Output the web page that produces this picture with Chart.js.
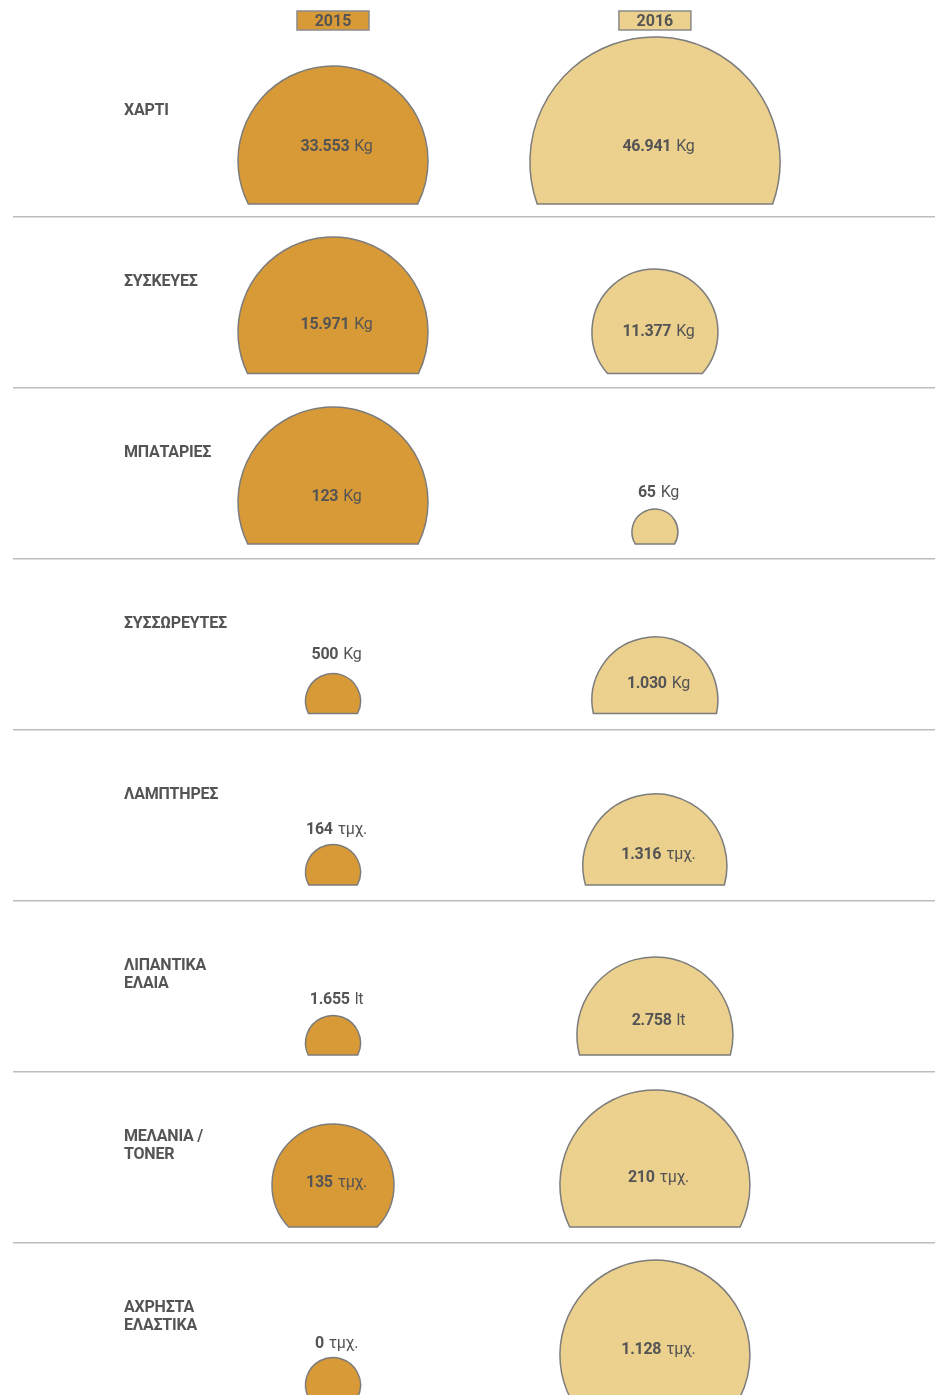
<!DOCTYPE html>
<html>
<head>
<meta charset="utf-8">
<script src="https://cdn.jsdelivr.net/npm/chart.js@4/dist/chart.umd.min.js"></script>
<style>
html,body{margin:0;padding:0;background:#ffffff;overflow:hidden;}
#wrap{width:935px;height:1420px;position:relative;}
canvas{display:block;}
</style>
</head>
<body>
<div id="wrap"><canvas id="c" width="935" height="1420"></canvas></div>
<script>
// ---- data ----
const categories = [['ΧΑΡΤΙ'], ['ΣΥΣΚΕΥΕΣ'], ['ΜΠΑΤΑΡΙΕΣ'], ['ΣΥΣΣΩΡΕΥΤΕΣ'], ['ΛΑΜΠΤΗΡΕΣ'], ['ΛΙΠΑΝΤΙΚΑ', 'ΕΛΑΙΑ'], ['ΜΕΛΑΝΙΑ /', 'TONER'], ['ΑΧΡΗΣΤΑ', 'ΕΛΑΣΤΙΚΑ']];
const years = [2015, 2016];
const values2015 = [33553, 15971, 123, 500, 164, 1655, 135, 0];
const values2016 = [46941, 11377, 65, 1030, 1316, 2758, 210, 1128];
const units = ['Kg', 'Kg', 'Kg', 'Kg', 'τμχ.', 'lt', 'τμχ.', 'τμχ.'];

// ---- layout (pixels, designer-chosen sizes, not data) ----
const radius2015 = [95, 95, 95, 27.5, 27.5, 27.5, 61, 27.5];
const radius2016 = [125, 63, 23, 63, 72, 78, 95, 95];
const centerDy2015 = [29.5, 29.5, 28.5, 56.5, 56.5, 56.5, 27.5, 56.5];
const centerDy2016 = [30.5, 29.5, 58.5, 55.5, 50.5, 48.5, 27.5, 26.5];
const labelDy2015 = [13.5, 20.5, 21.5, 8.5, 12.5, 11.5, 23.5, 13.5];
const labelDy2016 = [13.5, 27.5, 17.5, 37.5, 37.5, 32.5, 18.5, 19.5];
const baseDy = [72.5, 71, 70.5, 69, 69.5, 68.5, 69.5, 69.5];
const textShift = 1.5;

// ---- styles ----
const fills = ['#D89A36', '#EBD08E'];
const strokeColor = '#7c7c7c';
const textColor = '#545454';
const FONT = 'Roboto, "Noto Sans", sans-serif';

const seriesValues = [values2015, values2016];
const seriesRadius = [radius2015, radius2016];
const seriesCenterDy = [centerDy2015, centerDy2016];
const seriesLabelDy = [labelDy2015, labelDy2016];

const fmt = n => String(n).replace(/\B(?=(\d{3})+(?!\d))/g, '.');

const domePlugin = {
  id: 'domes',
  beforeDatasetsDraw(chart) {
    const ctx = chart.ctx;
    const xs = chart.scales.x;
    ctx.save();
    // header boxes
    years.forEach((yr, d) => {
      const x = xs.getPixelForValue(yr);
      const w = 72, h = 19, top = 11;
      ctx.fillStyle = fills[d];
      ctx.fillRect(x - w / 2, top, w, h);
      ctx.lineWidth = 1.5;
      ctx.strokeStyle = '#8a8a8a';
      ctx.strokeRect(x - w / 2, top, w, h);
      ctx.fillStyle = textColor;
      ctx.font = 'bold 16px ' + FONT;
      ctx.textAlign = 'center';
      ctx.textBaseline = 'middle';
      ctx.fillText(String(yr), x, top + h / 2 + 1.5);
    });
    // category labels
    const ys = chart.scales.y;
    ctx.font = 'bold 16px ' + FONT;
    ctx.textAlign = 'left';
    ctx.textBaseline = 'middle';
    ctx.fillStyle = textColor;
    try { ctx.letterSpacing = '-0.2px'; } catch (e) {}
    categories.forEach((lines, i) => {
      const yc = ys.getPixelForValue(i);
      lines.forEach((ln, k) => ctx.fillText(ln, 124, yc - 22.5 + textShift + k * 18.5));
    });
    try { ctx.letterSpacing = '0px'; } catch (e) {}
    ctx.restore();
  },
  afterDatasetsDraw(chart) {
    const ctx = chart.ctx;
    ctx.save();
    chart.data.datasets.forEach((ds, d) => {
      const meta = chart.getDatasetMeta(d);
      meta.data.forEach((el, i) => {
        const cx = el.x;
        const rowY = el.y;
        const r = el.options.radius;
        const cy = rowY + seriesCenterDy[d][i];
        const baseY = rowY + baseDy[i];
        const dc = baseY - cy;
        ctx.beginPath();
        if (dc >= r) {
          ctx.arc(cx, cy, r, 0, Math.PI * 2);
        } else {
          const t = Math.asin(dc / r);
          ctx.arc(cx, cy, r, Math.PI - t, Math.PI * 2 + t, false);
          ctx.closePath();
        }
        ctx.fillStyle = fills[d];
        ctx.fill();
        ctx.lineWidth = 1.5;
        ctx.strokeStyle = strokeColor;
        ctx.stroke();

        // value label
        const num = fmt(seriesValues[d][i]);
        const unit = units[i];
        ctx.textBaseline = 'middle';
        ctx.textAlign = 'left';
        ctx.font = 'bold 16px ' + FONT;
        try { ctx.letterSpacing = '-0.3px'; } catch (e) {}
        const wNum = ctx.measureText(num).width;
        ctx.font = '16px ' + FONT;
        const wSp = 5;
        const wUnit = ctx.measureText(unit).width;
        const total = wNum + wSp + wUnit;
        const lx = cx + 3.5 - total / 2;
        const ly = rowY + seriesLabelDy[d][i] + textShift;
        ctx.fillStyle = textColor;
        ctx.font = 'bold 16px ' + FONT;
        ctx.fillText(num, lx, ly);
        ctx.font = '16px ' + FONT;
        ctx.fillText(unit, lx + wNum + wSp, ly);
        try { ctx.letterSpacing = '0px'; } catch (e) {}
      });
    });
    ctx.restore();
  }
};

new Chart(document.getElementById('c').getContext('2d'), {
  type: 'bubble',
  data: {
    datasets: years.map((yr, d) => ({
      label: String(yr),
      data: categories.map((c, i) => ({ x: yr, y: i })),
      backgroundColor: 'rgba(0,0,0,0)',
      borderColor: 'rgba(0,0,0,0)',
      borderWidth: 0,
      radius: (c) => seriesRadius[d][c.dataIndex],
      clip: false
    }))
  },
  options: {
    responsive: false,
    animation: false,
    events: [],
    layout: { autoPadding: false, padding: { left: 13, right: 0, top: 46, bottom: 6 } },
    plugins: { legend: { display: false }, tooltip: { enabled: false } },
    scales: {
      x: { type: 'linear', display: false, min: 2014.006, max: 2016.87 },
      y: {
        type: 'linear', reverse: true, min: -0.5, max: 7.5,
        afterBuildTicks: (s) => { s.ticks = categories.map((c, i) => ({ value: i + 0.5 })); },
        afterFit: (s) => { s.width = 0; },
        ticks: { display: false },
        border: { display: false },
        grid: { color: '#bdbdbd', lineWidth: 1.5, drawTicks: false }
      }
    }
  },
  plugins: [domePlugin]
});
</script>
</body>
</html>
